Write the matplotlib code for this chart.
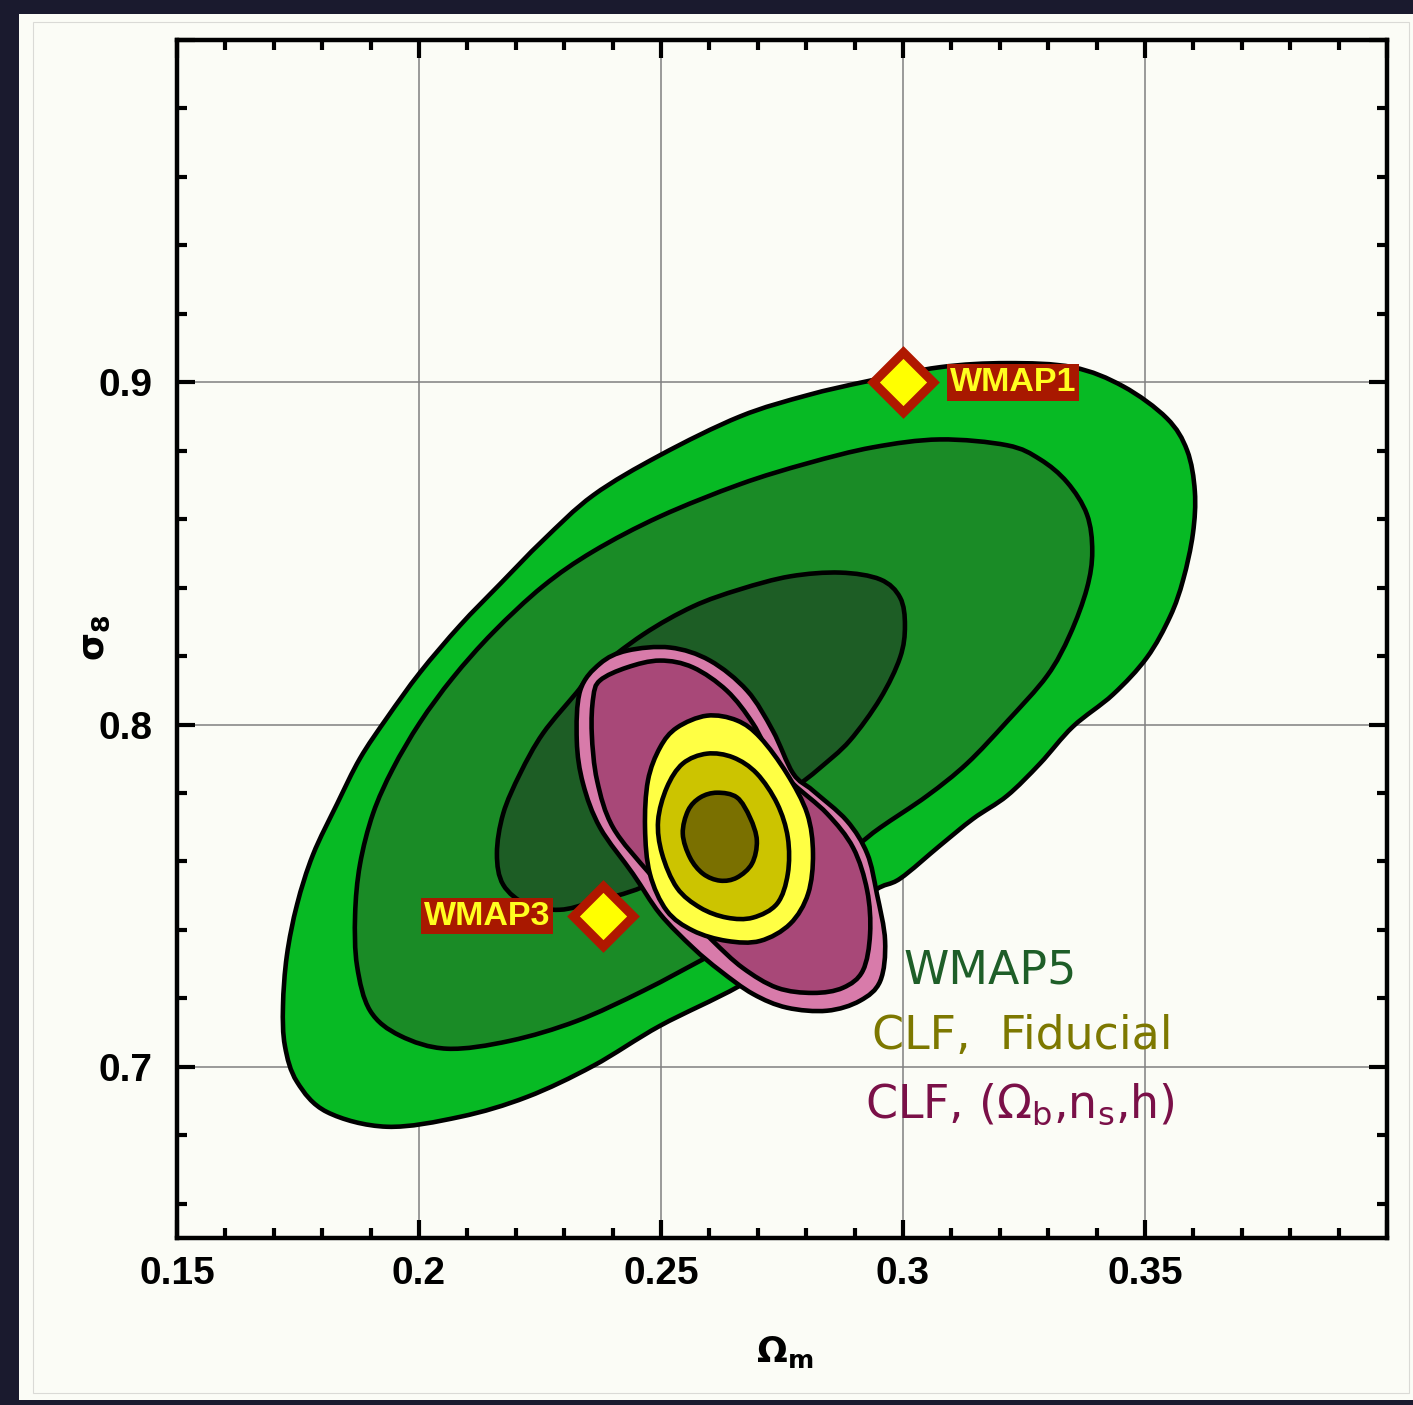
import numpy as np
import matplotlib
matplotlib.use('Agg')
import matplotlib.pyplot as plt
from matplotlib.path import Path
from matplotlib.patches import PathPatch, Rectangle

# ---------------- data (Omega_m, sigma_8) ----------------
# WMAP5 confidence regions
wmap5_outer_om = [0.1719,0.1727,0.1748,0.1781,0.1831,0.1878,0.1934,0.2002,0.2085,0.2167,0.2256,0.2360,0.2498,0.2663,0.2802,0.2926,0.3076,0.3215,0.3351,0.3455,0.3545,0.3587,0.3603,0.3599,0.3579,0.3552,0.3504,0.3434,0.3351,0.3283,0.3215,0.3145,0.3076,0.2994,0.2938,0.2829,0.2663,0.2498,0.2360,0.2223,0.2085,0.1934,0.1810,0.1748,0.1723]
wmap5_outer_s8 = [0.7178,0.7325,0.7474,0.7620,0.7769,0.7901,0.8020,0.8152,0.8290,0.8410,0.8538,0.8670,0.8787,0.8900,0.8962,0.9003,0.9044,0.9056,0.9044,0.8988,0.8895,0.8801,0.8681,0.8558,0.8424,0.8316,0.8196,0.8088,0.7994,0.7886,0.7792,0.7725,0.7646,0.7550,0.7512,0.7383,0.7237,0.7120,0.7003,0.6912,0.6854,0.6825,0.6868,0.6956,0.7061]

wmap5_mid_om = [0.1872,0.1868,0.1878,0.1905,0.1946,0.2002,0.2070,0.2153,0.2256,0.2360,0.2498,0.2663,0.2802,0.2938,0.3076,0.3215,0.3283,0.3339,0.3380,0.3391,0.3380,0.3345,0.3298,0.3215,0.3132,0.3050,0.2953,0.2905,0.2787,0.2663,0.2601,0.2463,0.2326,0.2188,0.2058,0.1961,0.1899]
wmap5_mid_s8 = [0.7295,0.7444,0.7591,0.7740,0.7871,0.8006,0.8137,0.8269,0.8404,0.8506,0.8608,0.8702,0.8763,0.8810,0.8833,0.8816,0.8775,0.8708,0.8614,0.8506,0.8398,0.8263,0.8143,0.8009,0.7886,0.7792,0.7699,0.7646,0.7515,0.7371,0.7325,0.7222,0.7134,0.7076,0.7053,0.7091,0.7164]

wmap5_in_om = [0.2161,0.2174,0.2209,0.2256,0.2326,0.2360,0.2463,0.2566,0.2663,0.2767,0.2870,0.2953,0.2994,0.3004,0.2994,0.2953,0.2890,0.2829,0.2793,0.2705,0.2581,0.2463,0.2360,0.2291,0.2223,0.2174]
wmap5_in_s8 = [0.7623,0.7740,0.7857,0.7974,0.8094,0.8152,0.8263,0.8345,0.8395,0.8433,0.8444,0.8424,0.8371,0.8289,0.8196,0.8076,0.7953,0.7874,0.7833,0.7734,0.7617,0.7526,0.7482,0.7459,0.7474,0.7532]

# CLF with free (Omega_b, n_s, h)
clf_free_outer_om = [0.2333,0.2374,0.2430,0.2519,0.2601,0.2678,0.2731,0.2773,0.2814,0.2884,0.2926,0.2946,0.2963,0.2953,0.2911,0.2843,0.2760,0.2690,0.2622,0.2566,0.2498,0.2442,0.2374,0.2339,0.2326]
clf_free_outer_s8 = [0.8099,0.8178,0.8216,0.8225,0.8187,0.8099,0.7982,0.7857,0.7807,0.7719,0.7623,0.7506,0.7368,0.7251,0.7193,0.7164,0.7173,0.7213,0.7281,0.7348,0.7447,0.7564,0.7699,0.7827,0.7953]

clf_free_in_om = [0.2360,0.2374,0.2430,0.2498,0.2566,0.2636,0.2690,0.2731,0.2773,0.2843,0.2897,0.2926,0.2932,0.2917,0.2876,0.2814,0.2740,0.2669,0.2607,0.2554,0.2477,0.2401,0.2368,0.2357]
clf_free_in_s8 = [0.8079,0.8129,0.8167,0.8187,0.8167,0.8099,0.8003,0.7895,0.7827,0.7740,0.7640,0.7515,0.7389,0.7281,0.7231,0.7216,0.7231,0.7289,0.7368,0.7447,0.7564,0.7699,0.7836,0.7974]

# CLF fiducial
clf_fid_outer_om = [0.2595,0.2657,0.2705,0.2760,0.2802,0.2814,0.2804,0.2767,0.2705,0.2636,0.2566,0.2512,0.2477,0.2467,0.2473,0.2498,0.2533]
clf_fid_outer_s8 = [0.8026,0.8012,0.7962,0.7857,0.7740,0.7623,0.7506,0.7418,0.7368,0.7368,0.7398,0.7456,0.7564,0.7699,0.7836,0.7933,0.7991]

clf_fid_mid_om = [0.2595,0.2649,0.2698,0.2740,0.2762,0.2762,0.2740,0.2690,0.2636,0.2581,0.2533,0.2502,0.2494,0.2512,0.2545]
clf_fid_mid_s8 = [0.7915,0.7904,0.7857,0.7769,0.7670,0.7564,0.7477,0.7436,0.7436,0.7465,0.7523,0.7623,0.7719,0.7816,0.7886]

clf_fid_in_om = [0.2616,0.2657,0.2684,0.2698,0.2688,0.2657,0.2622,0.2587,0.2560,0.2545,0.2556,0.2581]
clf_fid_in_s8 = [0.7801,0.7787,0.7728,0.7661,0.7594,0.7553,0.7544,0.7564,0.7611,0.7681,0.7749,0.7787]

# WMAP points
wmap_names = ['WMAP1', 'WMAP3']
wmap_om = [0.300, 0.238]
wmap_s8 = [0.900, 0.744]

# axes ticks
xticks_major = [0.15, 0.20, 0.25, 0.30, 0.35, 0.40]
xtick_labels = ['0.15', '0.2', '0.25', '0.3', '0.35', '']
yticks_major = [0.7, 0.8, 0.9, 1.0]
ytick_labels = ['0.7', '0.8', '0.9', '']

legend_texts = ['WMAP5', 'CLF,  Fiducial', r'CLF, ($\Omega_{\rm b}$,n$_{\rm s}$,h)']

# ---------------- styling ----------------
PAPER = '#FBFCF6'
plt.rcParams['font.family'] = ['Liberation Sans', 'DejaVu Sans']
plt.rcParams['mathtext.fontset'] = 'dejavusans'

fig = plt.figure(figsize=(14.13, 14.05), dpi=100)
fig.patch.set_facecolor('#1A1A2E')
fig.add_artist(Rectangle((19/1413, 5/1405), 1 - 19/1413, 1 - 14/1405 - 5/1405,
                         transform=fig.transFigure, facecolor=PAPER,
                         edgecolor='none', zorder=0))
fig.add_artist(Rectangle((33/1413, 12/1405), 1 - 33/1413 - 4/1413, 1 - 22/1405 - 12/1405,
                         transform=fig.transFigure, facecolor='none',
                         edgecolor='#DADAD6', lw=0.8, zorder=0.5))

ax = fig.add_axes([177/1413, 1 - 1238/1405, 1210/1413, 1198/1405])
ax.set_facecolor(PAPER)
ax.set_xlim(0.15, 0.40)
ax.set_ylim(0.65, 1.00)


def smooth_closed_path(xs, ys):
    P = np.column_stack([xs, ys])
    n = len(P)
    verts = [P[0]]
    codes = [Path.MOVETO]
    for i in range(n):
        p0, p1, p2, p3 = P[i - 1], P[i], P[(i + 1) % n], P[(i + 2) % n]
        c1 = p1 + (p2 - p0) / 6.0
        c2 = p2 - (p3 - p1) / 6.0
        verts += [c1, c2, p2]
        codes += [Path.CURVE4] * 3
    verts.append(P[0])
    codes.append(Path.CLOSEPOLY)
    return Path(verts, codes)


layers = [
    (wmap5_outer_om, wmap5_outer_s8, '#07BA24'),
    (wmap5_mid_om, wmap5_mid_s8, '#1A8B26'),
    (wmap5_in_om, wmap5_in_s8, '#1D5D25'),
    (clf_free_outer_om, clf_free_outer_s8, '#D87BAA'),
    (clf_free_in_om, clf_free_in_s8, '#A84878'),
    (clf_fid_outer_om, clf_fid_outer_s8, '#FFFF44'),
    (clf_fid_mid_om, clf_fid_mid_s8, '#CCC400'),
    (clf_fid_in_om, clf_fid_in_s8, '#7A7000'),
]
for k, (xs, ys, col) in enumerate(layers):
    ax.add_patch(PathPatch(smooth_closed_path(xs, ys), facecolor=col,
                           edgecolor='black', lw=3.3, joinstyle='round',
                           zorder=2 + 0.1 * k))

# WMAP markers and labels
ax.plot(wmap_om, wmap_s8, linestyle='none', marker='D', ms=31,
        mfc='#FFFF00', mec='#B01800', mew=6.5, zorder=5)
box = dict(boxstyle='square,pad=0.08', fc='#A81800', ec='none')
ax.text(0.3097, wmap_s8[0], wmap_names[0], ha='left', va='center',
        fontsize=24.5, fontweight='bold', color='#FFFF20', bbox=box, zorder=6)
ax.text(0.2271, wmap_s8[1], wmap_names[1], ha='right', va='center',
        fontsize=24.5, fontweight='bold', color='#FFFF20', bbox=box, zorder=6)

# legend-style texts
leg_cols = ['#1E5E28', '#7D7800', '#7A1048']
leg_pos = [(0.3000, 0.7243), (0.2936, 0.7053), (0.2921, 0.6851)]
for t, c, (lx, ly) in zip(legend_texts, leg_cols, leg_pos):
    ax.text(lx, ly, t, color=c, fontsize=33, ha='left', va='baseline',
            family=['DejaVu Sans'], zorder=6)

# ticks / grid
ax.set_xticks(xticks_major)
ax.set_xticklabels(xtick_labels)
ax.set_yticks(yticks_major)
ax.set_yticklabels(ytick_labels)
ax.set_xticks(np.arange(0.15, 0.4001, 0.01), minor=True)
ax.set_yticks(np.arange(0.66, 1.0001, 0.02), minor=True)
ax.tick_params(which='both', direction='in', top=True, right=True, width=3)
ax.tick_params(which='major', length=13)
ax.tick_params(which='minor', length=7)
ax.tick_params(axis='x', which='major', pad=13, labelsize=28)
ax.tick_params(axis='y', which='major', pad=18, labelsize=28)
for lab in ax.get_xticklabels() + ax.get_yticklabels():
    lab.set_fontweight('bold')
for sp in ax.spines.values():
    sp.set_linewidth(3.2)
ax.set_axisbelow(True)
ax.grid(True, which='major', color='#808080', lw=1.1)

fig.text(785/1413, 1 - 1352/1405, r'$\mathbf{\Omega_m}$', ha='center', va='center',
         fontsize=26)
fig.text(95/1413, 1 - 638/1405, r'$\mathbf{\sigma_8}$', ha='center', va='center',
         fontsize=26, rotation=90)

fig.savefig('out.png', dpi=100, facecolor=fig.get_facecolor())
